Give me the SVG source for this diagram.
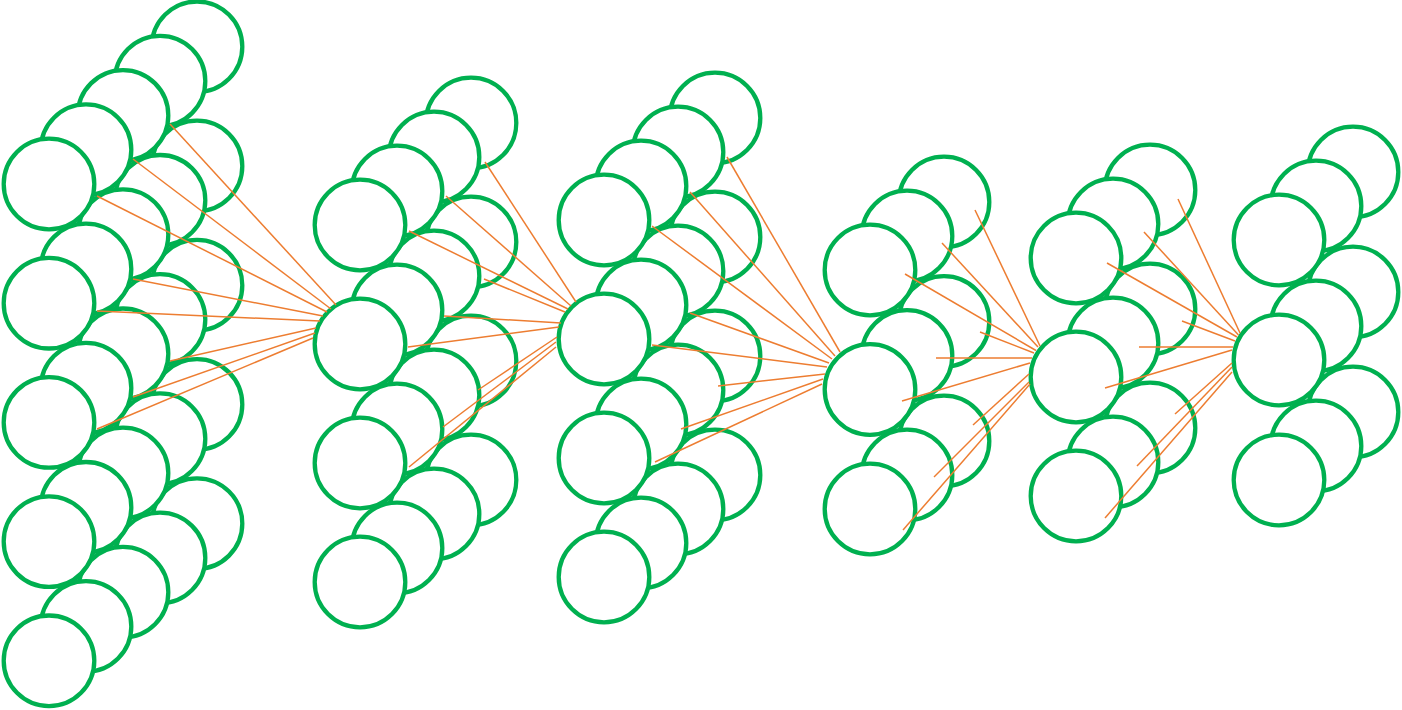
<svg xmlns="http://www.w3.org/2000/svg" width="1402" height="710" viewBox="0 0 1402 710">
<style>
.n circle{fill:#fff;stroke:#00B050;stroke-width:4.3}
#connectors line{stroke:#ED7D31;stroke-width:1.5;fill:none}
</style>
<rect width="1402" height="710" fill="#fff"/>
<g id="layer1">
<g class="n" id="l1-d4-r0"><circle cx="197" cy="46.8" r="45.3"/></g>
<g class="n" id="l1-d4-r1"><circle cx="197" cy="166" r="45.3"/></g>
<g class="n" id="l1-d4-r2"><circle cx="197" cy="285.2" r="45.3"/></g>
<g class="n" id="l1-d4-r3"><circle cx="197" cy="404.4" r="45.3"/></g>
<g class="n" id="l1-d4-r4"><circle cx="197" cy="523.6" r="45.3"/></g>
<g class="n" id="l1-d3-r0"><circle cx="160" cy="81.1" r="45.3"/></g>
<g class="n" id="l1-d3-r1"><circle cx="160" cy="200.3" r="45.3"/></g>
<g class="n" id="l1-d3-r2"><circle cx="160" cy="319.5" r="45.3"/></g>
<g class="n" id="l1-d3-r3"><circle cx="160" cy="438.7" r="45.3"/></g>
<g class="n" id="l1-d3-r4"><circle cx="160" cy="557.9" r="45.3"/></g>
<g class="n" id="l1-d2-r0"><circle cx="123" cy="115.4" r="45.3"/></g>
<g class="n" id="l1-d2-r1"><circle cx="123" cy="234.6" r="45.3"/></g>
<g class="n" id="l1-d2-r2"><circle cx="123" cy="353.8" r="45.3"/></g>
<g class="n" id="l1-d2-r3"><circle cx="123" cy="473" r="45.3"/></g>
<g class="n" id="l1-d2-r4"><circle cx="123" cy="592.2" r="45.3"/></g>
<g class="n" id="l1-d1-r0"><circle cx="86" cy="149.7" r="45.3"/></g>
<g class="n" id="l1-d1-r1"><circle cx="86" cy="268.9" r="45.3"/></g>
<g class="n" id="l1-d1-r2"><circle cx="86" cy="388.1" r="45.3"/></g>
<g class="n" id="l1-d1-r3"><circle cx="86" cy="507.3" r="45.3"/></g>
<g class="n" id="l1-d1-r4"><circle cx="86" cy="626.5" r="45.3"/></g>
<g class="n" id="l1-d0-r0"><circle cx="49" cy="184" r="45.3"/></g>
<g class="n" id="l1-d0-r1"><circle cx="49" cy="303.2" r="45.3"/></g>
<g class="n" id="l1-d0-r2"><circle cx="49" cy="422.4" r="45.3"/></g>
<g class="n" id="l1-d0-r3"><circle cx="49" cy="541.6" r="45.3"/></g>
<g class="n" id="l1-d0-r4"><circle cx="49" cy="660.8" r="45.3"/></g>
</g>
<g id="layer2">
<g class="n" id="l2-d3-r0"><circle cx="471" cy="123" r="45.3"/></g>
<g class="n" id="l2-d3-r1"><circle cx="471" cy="242" r="45.3"/></g>
<g class="n" id="l2-d3-r2"><circle cx="471" cy="361" r="45.3"/></g>
<g class="n" id="l2-d3-r3"><circle cx="471" cy="480" r="45.3"/></g>
<g class="n" id="l2-d2-r0"><circle cx="434" cy="157" r="45.3"/></g>
<g class="n" id="l2-d2-r1"><circle cx="434" cy="276" r="45.3"/></g>
<g class="n" id="l2-d2-r2"><circle cx="434" cy="395" r="45.3"/></g>
<g class="n" id="l2-d2-r3"><circle cx="434" cy="514" r="45.3"/></g>
<g class="n" id="l2-d1-r0"><circle cx="397" cy="191" r="45.3"/></g>
<g class="n" id="l2-d1-r1"><circle cx="397" cy="310" r="45.3"/></g>
<g class="n" id="l2-d1-r2"><circle cx="397" cy="429" r="45.3"/></g>
<g class="n" id="l2-d1-r3"><circle cx="397" cy="548" r="45.3"/></g>
<g class="n" id="l2-d0-r0"><circle cx="360" cy="225" r="45.3"/></g>
<g class="n" id="l2-d0-r1"><circle cx="360" cy="344" r="45.3"/></g>
<g class="n" id="l2-d0-r2"><circle cx="360" cy="463" r="45.3"/></g>
<g class="n" id="l2-d0-r3"><circle cx="360" cy="582" r="45.3"/></g>
</g>
<g id="layer3">
<g class="n" id="l3-d3-r0"><circle cx="715" cy="118" r="45.3"/></g>
<g class="n" id="l3-d3-r1"><circle cx="715" cy="237" r="45.3"/></g>
<g class="n" id="l3-d3-r2"><circle cx="715" cy="356" r="45.3"/></g>
<g class="n" id="l3-d3-r3"><circle cx="715" cy="475" r="45.3"/></g>
<g class="n" id="l3-d2-r0"><circle cx="678" cy="152" r="45.3"/></g>
<g class="n" id="l3-d2-r1"><circle cx="678" cy="271" r="45.3"/></g>
<g class="n" id="l3-d2-r2"><circle cx="678" cy="390" r="45.3"/></g>
<g class="n" id="l3-d2-r3"><circle cx="678" cy="509" r="45.3"/></g>
<g class="n" id="l3-d1-r0"><circle cx="641" cy="186" r="45.3"/></g>
<g class="n" id="l3-d1-r1"><circle cx="641" cy="305" r="45.3"/></g>
<g class="n" id="l3-d1-r2"><circle cx="641" cy="424" r="45.3"/></g>
<g class="n" id="l3-d1-r3"><circle cx="641" cy="543" r="45.3"/></g>
<g class="n" id="l3-d0-r0"><circle cx="604" cy="220" r="45.3"/></g>
<g class="n" id="l3-d0-r1"><circle cx="604" cy="339" r="45.3"/></g>
<g class="n" id="l3-d0-r2"><circle cx="604" cy="458" r="45.3"/></g>
<g class="n" id="l3-d0-r3"><circle cx="604" cy="577" r="45.3"/></g>
</g>
<g id="layer4">
<g class="n" id="l4-d2-r0"><circle cx="944" cy="202" r="45.3"/></g>
<g class="n" id="l4-d2-r1"><circle cx="944" cy="321.5" r="45.3"/></g>
<g class="n" id="l4-d2-r2"><circle cx="944" cy="441" r="45.3"/></g>
<g class="n" id="l4-d1-r0"><circle cx="907" cy="236" r="45.3"/></g>
<g class="n" id="l4-d1-r1"><circle cx="907" cy="355.5" r="45.3"/></g>
<g class="n" id="l4-d1-r2"><circle cx="907" cy="475" r="45.3"/></g>
<g class="n" id="l4-d0-r0"><circle cx="870" cy="270" r="45.3"/></g>
<g class="n" id="l4-d0-r1"><circle cx="870" cy="389.5" r="45.3"/></g>
<g class="n" id="l4-d0-r2"><circle cx="870" cy="509" r="45.3"/></g>
</g>
<g id="layer5">
<g class="n" id="l5-d2-r0"><circle cx="1150" cy="190" r="45.3"/></g>
<g class="n" id="l5-d2-r1"><circle cx="1150" cy="309" r="45.3"/></g>
<g class="n" id="l5-d2-r2"><circle cx="1150" cy="428" r="45.3"/></g>
<g class="n" id="l5-d1-r0"><circle cx="1113" cy="224" r="45.3"/></g>
<g class="n" id="l5-d1-r1"><circle cx="1113" cy="343" r="45.3"/></g>
<g class="n" id="l5-d1-r2"><circle cx="1113" cy="462" r="45.3"/></g>
<g class="n" id="l5-d0-r0"><circle cx="1076" cy="258" r="45.3"/></g>
<g class="n" id="l5-d0-r1"><circle cx="1076" cy="377" r="45.3"/></g>
<g class="n" id="l5-d0-r2"><circle cx="1076" cy="496" r="45.3"/></g>
</g>
<g id="layer6">
<g class="n" id="l6-d2-r0"><circle cx="1353" cy="172" r="45.3"/></g>
<g class="n" id="l6-d2-r1"><circle cx="1353" cy="292" r="45.3"/></g>
<g class="n" id="l6-d2-r2"><circle cx="1353" cy="412" r="45.3"/></g>
<g class="n" id="l6-d1-r0"><circle cx="1316" cy="206" r="45.3"/></g>
<g class="n" id="l6-d1-r1"><circle cx="1316" cy="326" r="45.3"/></g>
<g class="n" id="l6-d1-r2"><circle cx="1316" cy="446" r="45.3"/></g>
<g class="n" id="l6-d0-r0"><circle cx="1279" cy="240" r="45.3"/></g>
<g class="n" id="l6-d0-r1"><circle cx="1279" cy="360" r="45.3"/></g>
<g class="n" id="l6-d0-r2"><circle cx="1279" cy="480" r="45.3"/></g>
</g>
<g id="connectors">
<line x1="170" y1="124" x2="336" y2="305"/>
<line x1="133" y1="159" x2="331" y2="309"/>
<line x1="97" y1="196" x2="327" y2="312"/>
<line x1="133" y1="279" x2="323" y2="316"/>
<line x1="97" y1="311" x2="320" y2="321"/>
<line x1="170" y1="361" x2="316" y2="328"/>
<line x1="133" y1="397" x2="315" y2="333"/>
<line x1="97" y1="429" x2="313" y2="338"/>
<line x1="485" y1="162" x2="576" y2="302"/>
<line x1="446" y1="196" x2="571" y2="306"/>
<line x1="409" y1="231" x2="568" y2="309"/>
<line x1="484" y1="279" x2="565" y2="312"/>
<line x1="444" y1="316" x2="561" y2="323"/>
<line x1="408" y1="347" x2="559" y2="327"/>
<line x1="478" y1="390" x2="557" y2="337"/>
<line x1="443" y1="427" x2="556" y2="342"/>
<line x1="409" y1="467" x2="556" y2="347"/>
<line x1="727" y1="157" x2="840" y2="352"/>
<line x1="690" y1="192" x2="835" y2="356"/>
<line x1="652" y1="226" x2="832" y2="359"/>
<line x1="690" y1="313" x2="829" y2="363"/>
<line x1="652" y1="345" x2="827" y2="367"/>
<line x1="718" y1="386" x2="825" y2="374"/>
<line x1="681" y1="429" x2="823" y2="379"/>
<line x1="655" y1="462" x2="822" y2="384"/>
<line x1="975" y1="210" x2="1040" y2="346"/>
<line x1="942" y1="243" x2="1038" y2="347"/>
<line x1="905" y1="274" x2="1036" y2="350.5"/>
<line x1="980" y1="332" x2="1034" y2="353"/>
<line x1="936" y1="358" x2="1032" y2="358"/>
<line x1="902" y1="401" x2="1030" y2="363"/>
<line x1="973" y1="425" x2="1029" y2="374"/>
<line x1="934" y1="477" x2="1029" y2="382"/>
<line x1="903" y1="530" x2="1030" y2="384"/>
<line x1="1178" y1="199" x2="1240" y2="333"/>
<line x1="1144" y1="232" x2="1238.5" y2="335"/>
<line x1="1107" y1="263" x2="1237" y2="337"/>
<line x1="1182" y1="321" x2="1235" y2="341"/>
<line x1="1139" y1="347" x2="1233" y2="347"/>
<line x1="1105" y1="388" x2="1232" y2="350"/>
<line x1="1175" y1="414" x2="1232" y2="363"/>
<line x1="1137" y1="466" x2="1232" y2="367"/>
<line x1="1105" y1="518" x2="1232" y2="372"/>
</g>
</svg>
